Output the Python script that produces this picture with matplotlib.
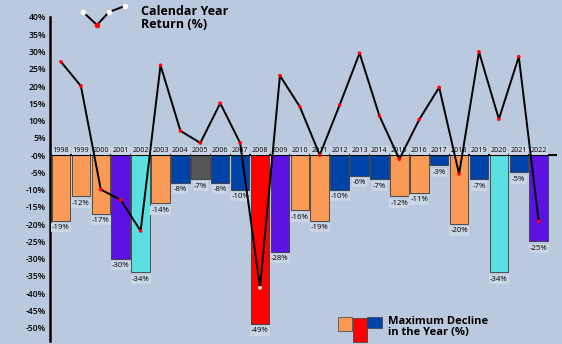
import matplotlib
matplotlib.use("Agg")
import matplotlib.pyplot as plt
from matplotlib.patches import Rectangle
from matplotlib.lines import Line2D

plt.rcParams['font.family'] = ['Open Sans', 'DejaVu Sans']

years = list(range(1998, 2023))
annual_return = [27, 20, -10, -13, -22, 26, 7, 3.5, 15, 3.5, -38.5, 23, 14, 0,
                 14.5, 29.5, 11.3, -1.2, 10.3, 19.6, -5.5, 29.9, 10.4, 28.5, -19.2]
max_decline = [-19, -12, -17, -30, -34, -14, -8, -7, -8, -10, -49, -28, -16, -19,
               -10, -6, -7, -12, -11, -3, -20, -7, -34, -5, -25]
decline_kind = ['o', 'o', 'o', 'p', 'c', 'o', 'b', 'g', 'b', 'b', 'r', 'p', 'o', 'o',
                'b', 'b', 'b', 'o', 'o', 'b', 'o', 'b', 'c', 'b', 'p']
y_ticks = list(range(40, -55, -5))

palette = {'o': '#F99A56', 'p': '#5B12E3', 'c': '#5CDFE0', 'b': '#0043A8',
           'g': '#555555', 'r': '#FF0000'}
bg = '#BAC9DE'
box = dict(boxstyle='square,pad=0.15', fc='#CAD6E6', ec='none')

W, H = 562, 344
fig = plt.figure(figsize=(W / 100, H / 100), dpi=100, facecolor=bg)


def fx(px):
    return px / W


def fy(py):
    return 1 - py / H


ax = fig.add_axes([fx(50), fy(341), fx(557) - fx(50), fy(17) - fy(341)])
ax.set_facecolor(bg)
ax.set_xlim(-0.553, 24.92)
ax.set_ylim(-53.9, 40)

xs = list(range(len(years)))
ax.bar(xs, max_decline, width=0.93, color=[palette[k] for k in decline_kind],
       edgecolor='#3a3a3a', linewidth=0.6, zorder=2)
ax.axhline(0, color='black', lw=1.5, zorder=3)

for i, (yr, d) in enumerate(zip(years, max_decline)):
    ax.text(i, 1.2, str(yr), ha='center', va='center', fontsize=5.2,
            bbox=box, zorder=4)
    ax.text(i, d - 2.0, '%d%%' % d, ha='center', va='center', fontsize=5.6,
            bbox=box, zorder=4)

ax.plot(xs, annual_return, color='black', lw=1.4, zorder=5)
marker_colors = ['white' if yr == 2008 else 'red' for yr in years]
ax.scatter(xs, annual_return, s=7, c=marker_colors, zorder=6, linewidths=0)

ax.set_yticks(y_ticks)
ax.set_yticklabels(['-0%' if t == 0 else '%d%%' % t for t in y_ticks],
                   fontsize=6.2, fontweight='semibold')
ax.tick_params(axis='y', length=0, pad=3)
ax.set_xticks([])
for side in ['top', 'right', 'bottom']:
    ax.spines[side].set_visible(False)
ax.spines['left'].set_linewidth(1.8)

# legend for the yearly return line
lx = [83, 97, 109, 125]
ly = [12, 25, 12, 6]
fig.add_artist(Line2D([fx(v) for v in lx], [fy(v) for v in ly], color='black', lw=1.4))
for i in range(4):
    fig.add_artist(Line2D([fx(lx[i])], [fy(ly[i])], marker='o', markersize=4,
                          markeredgewidth=0, color='red' if i == 1 else 'white'))
fig.text(fx(141), fy(18), 'Calendar Year\nReturn (%)', ha='left', va='center',
         fontsize=9, fontweight='bold', linespacing=0.95)

# legend for the maximum decline bars
fig.add_artist(Rectangle((fx(338), fy(331)), fx(14), fy(317) - fy(331),
                         fc=palette['o'], ec='#3a3a3a', lw=0.5))
fig.add_artist(Rectangle((fx(353), fy(342)), fx(14), fy(318) - fy(342),
                         fc=palette['r'], ec='#3a3a3a', lw=0.5))
fig.add_artist(Rectangle((fx(367), fy(328)), fx(15), fy(317) - fy(328),
                         fc=palette['b'], ec='#3a3a3a', lw=0.5))
fig.text(fx(388), fy(327), 'Maximum Decline\nin the Year (%)', ha='left', va='center',
         fontsize=8, fontweight='bold', linespacing=0.95)

fig.savefig('out.png', dpi=100, facecolor=bg)
